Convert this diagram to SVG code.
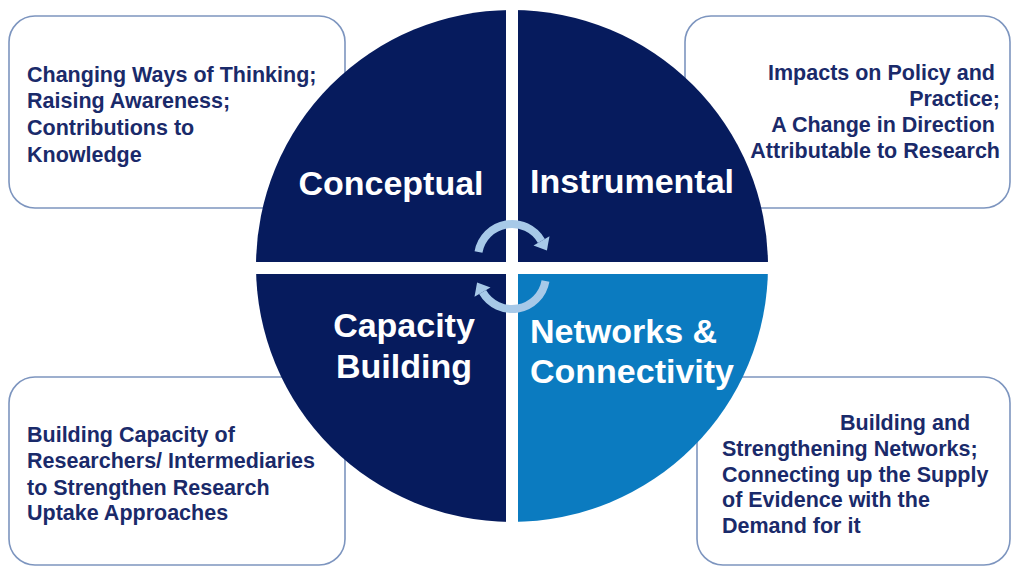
<svg xmlns="http://www.w3.org/2000/svg" width="1012" height="569" viewBox="0 0 1012 569">
<style>
.box{fill:#ffffff;stroke:#7d95bf;stroke-width:1.6}
.bt{font-family:"Liberation Sans",Arial,sans-serif;font-weight:bold;font-size:21.5px;fill:#1a2a6a}
.tt{font-family:"Liberation Sans",Arial,sans-serif;font-weight:bold;font-size:34px;fill:#ffffff}
.navy{fill:#061b5d}
.light{fill:#0b7bc0}
.arc{fill:none;stroke:#a7c9e8;stroke-width:8}
.head{fill:#a7c9e8}
</style>
<defs>
<clipPath id="circ"><circle cx="512" cy="266" r="256"/></clipPath>
</defs>
<rect width="1012" height="569" fill="#ffffff"/>
<g id="box-conceptual">
<rect class="box" x="9" y="16" width="336" height="192" rx="26"/>
<text class="bt" x="27" y="82">Changing Ways of Thinking;</text>
<text class="bt" x="27" y="108">Raising Awareness;</text>
<text class="bt" x="27" y="135">Contributions to</text>
<text class="bt" x="27" y="162">Knowledge</text>
</g>
<g id="box-instrumental">
<rect class="box" x="685" y="16" width="325" height="192" rx="26"/>
<text class="bt" x="995" y="80" text-anchor="end">Impacts on Policy and</text>
<text class="bt" x="1000" y="106" text-anchor="end">Practice;</text>
<text class="bt" x="995" y="132" text-anchor="end">A Change in Direction</text>
<text class="bt" x="1000" y="158" text-anchor="end">Attributable to Research</text>
</g>
<g id="box-capacity">
<rect class="box" x="9" y="377" width="336" height="188" rx="26"/>
<text class="bt" x="27" y="442">Building Capacity of</text>
<text class="bt" x="27" y="468">Researchers/ Intermediaries</text>
<text class="bt" x="27" y="495">to Strengthen Research</text>
<text class="bt" x="27" y="520">Uptake Approaches</text>
</g>
<g id="box-networks">
<rect class="box" x="697" y="377" width="313" height="188" rx="26"/>
<text class="bt" x="840" y="430">Building and</text>
<text class="bt" x="722" y="456">Strengthening Networks;</text>
<text class="bt" x="722" y="482">Connecting up the Supply</text>
<text class="bt" x="722" y="507">of Evidence with the</text>
<text class="bt" x="722" y="533">Demand for it</text>
</g>
<g id="q-conceptual" clip-path="url(#circ)">
<rect class="navy" x="250" y="5" width="256" height="257"/>
<text class="tt" x="391" y="195" text-anchor="middle">Conceptual</text>
</g>
<g id="q-instrumental" clip-path="url(#circ)">
<rect class="navy" x="518" y="5" width="256" height="257"/>
<text class="tt" x="530" y="193">Instrumental</text>
</g>
<g id="q-capacity" clip-path="url(#circ)">
<rect class="navy" x="250" y="274" width="256" height="256"/>
<text class="tt" x="404" y="337" text-anchor="middle">Capacity</text>
<text class="tt" x="404" y="378" text-anchor="middle">Building</text>
</g>
<g id="q-networks" clip-path="url(#circ)">
<rect class="light" x="518" y="274" width="256" height="256"/>
<text class="tt" x="530" y="343">Networks &amp;</text>
<text class="tt" x="530" y="383">Connectivity</text>
</g>
<g id="connectors">
<g id="cycle-top">
<path class="arc" d="M478.5 252 A34 34 0 0 1 541.4 241"/>
<polygon class="head" points="546.9,250.5 549.5,236.3 533.5,245.5"/>
</g>
<g id="cycle-bottom" transform="rotate(180 512 266.5)">
<path class="arc" d="M478.5 252 A34 34 0 0 1 541.4 241"/>
<polygon class="head" points="546.9,250.5 549.5,236.3 533.5,245.5"/>
</g>
</g>
</svg>
